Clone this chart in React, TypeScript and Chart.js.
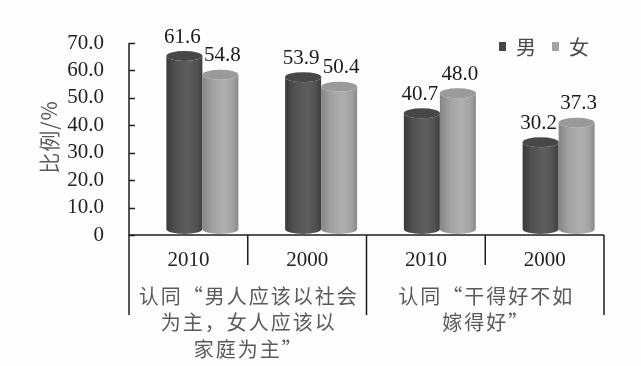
import React, { useEffect, useRef } from 'react';
import { Chart, registerables } from 'chart.js';

Chart.register(...registerables);

const categories = ['2010', '2000', '2010', '2000'];
const groupLabels = [
  ['认同“男人应该以社会', '为主，女人应该以', '家庭为主”'],
  ['认同“干得好不如', '嫁得好”'],
];
const groupSpans = [[0, 1], [2, 3]];
const seriesNames = ['男', '女'];
const maleValues = [61.6, 53.9, 40.7, 30.2];
const femaleValues = [54.8, 50.4, 48.0, 37.3];
const yMin = 0;
const yMax = 70;
const yStep = 10;
const yTitle = '比例/%';

const SERIF = '"Liberation Serif", "DejaVu Serif", serif';
const CJK = '"Noto Sans CJK SC", "Noto Sans", sans-serif';

const styles = [
  {
    stops: [[0, '#3a3a3a'], [0.25, '#505050'], [0.6, '#5e5e5e'], [0.85, '#515151'], [1, '#3e3e3e']],
    top: '#474747',
    legend: '#474747',
  },
  {
    stops: [[0, '#858585'], [0.3, '#a3a3a3'], [0.6, '#b0b0b0'], [0.85, '#a2a2a2'], [1, '#8a8a8a']],
    top: '#9a9a9a',
    legend: '#a3a3a3',
  },
];

function drawCylinder(ctx: CanvasRenderingContext2D, cx: number, rx: number, topY: number, botY: number, ry: number, st: any) {
  const left = cx - rx;
  const right = cx + rx;
  const g = ctx.createLinearGradient(left, 0, right, 0);
  st.stops.forEach((s: any) => g.addColorStop(s[0], s[1]));
  ctx.beginPath();
  ctx.moveTo(left, topY);
  ctx.lineTo(left, botY);
  ctx.ellipse(cx, botY, rx, ry, 0, Math.PI, 0, true);
  ctx.lineTo(right, topY);
  ctx.ellipse(cx, topY, rx, ry, 0, 0, Math.PI, false);
  ctx.closePath();
  ctx.fillStyle = g;
  ctx.fill();
  ctx.beginPath();
  ctx.ellipse(cx, topY, rx, ry, 0, 0, Math.PI * 2);
  ctx.fillStyle = st.top;
  ctx.fill();
}

const customPlugin = {
  id: 'custom3d',
  beforeDraw(chart: any) {
    const ctx = chart.ctx;
    ctx.save();
    ctx.fillStyle = '#fdfdfd';
    ctx.fillRect(0, 0, chart.width, chart.height);
    ctx.restore();
  },
  afterDraw(chart: any) {
    const ctx: CanvasRenderingContext2D = chart.ctx;
    const xs = chart.scales.x;
    const ys = chart.scales.y;
    const area = chart.chartArea;
    const catW = (xs.right - xs.left) / categories.length;
    ctx.save();

    // axes
    ctx.strokeStyle = '#1e1e1e';
    ctx.lineWidth = 1.5;
    ctx.beginPath();
    ctx.moveTo(area.left, area.top);
    ctx.lineTo(area.left, area.bottom);
    ctx.lineTo(area.right, area.bottom);
    ctx.stroke();
    // y ticks inward
    for (let v = yMin; v <= yMax; v += yStep) {
      const py = Math.round(ys.getPixelForValue(v)) + 0.5;
      ctx.beginPath();
      ctx.moveTo(area.left, py);
      ctx.lineTo(area.left + 6, py);
      ctx.stroke();
    }
    // x dividers
    for (let i = 0; i <= categories.length; i++) {
      const px = xs.left + i * catW;
      const isGroupEdge = groupSpans.some((s) => s[0] === i || s[1] + 1 === i);
      ctx.beginPath();
      ctx.moveTo(px, area.bottom);
      ctx.lineTo(px, area.bottom + (isGroupEdge ? 80 : 30));
      ctx.stroke();
    }

    // category labels
    ctx.fillStyle = '#222';
    ctx.font = `21px ${SERIF}`;
    ctx.textAlign = 'center';
    ctx.textBaseline = 'middle';
    categories.forEach((c, i) => {
      ctx.fillText(c, xs.getPixelForValue(i), area.bottom + 25);
    });

    // group labels
    ctx.fillStyle = '#5a5a5a';
    ctx.font = `20px ${CJK}`;
    (ctx as any).letterSpacing = '2px';
    groupLabels.forEach((lines, gi) => {
      const [a, b] = groupSpans[gi];
      const cx = (xs.left + a * catW + xs.left + (b + 1) * catW) / 2;
      lines.forEach((line, li) => {
        ctx.fillText(line, cx + 1, area.bottom + 61 + li * 26.5);
      });
    });
    (ctx as any).letterSpacing = '0px';

    // y title
    ctx.save();
    ctx.translate(49, (area.top + area.bottom) / 2 - 2);
    ctx.rotate(-Math.PI / 2);
    ctx.fillStyle = '#5a5a5a';
    ctx.font = `21px ${CJK}`;
    (ctx as any).letterSpacing = '1px';
    ctx.fillText(yTitle, 0, 0);
    (ctx as any).letterSpacing = '0px';
    ctx.restore();

    // cylinders
    const shiftX = 14;
    const rx = 18;
    const ry = 5;
    const labels: any[] = [];
    chart.data.datasets.forEach((ds: any, di: number) => {
      const meta = chart.getDatasetMeta(di);
      meta.data.forEach((el: any, i: number) => {
        const cx = el.x + shiftX;
        const topY = el.y - 10;
        const botY = el.base - 6;
        drawCylinder(ctx, cx, rx, topY, botY, ry, styles[di]);
        labels.push({ x: cx + (di === 0 ? -2 : 2), y: el.y - 29, t: ds.data[i].toFixed(1) });
      });
    });
    ctx.fillStyle = '#1a1a1a';
    ctx.font = `21px ${SERIF}`;
    ctx.textAlign = 'center';
    ctx.textBaseline = 'middle';
    labels.forEach((l) => ctx.fillText(l.t, l.x, l.y));

    // legend
    ctx.textAlign = 'left';
    ctx.font = `20px ${CJK}`;
    let lx = 499;
    seriesNames.forEach((name, i) => {
      ctx.fillStyle = styles[i].legend;
      ctx.fillRect(lx, 42, 7, 9);
      ctx.fillStyle = '#4a4a4a';
      ctx.fillText(name, lx + 17, 47);
      lx += 53;
    });

    ctx.restore();
  },
};

export default function App() {
  const ref = useRef<HTMLCanvasElement>(null);
  useEffect(() => {
    if (!ref.current) return;
    const chart = new Chart(ref.current, {
      type: 'bar',
      data: {
        labels: categories,
        datasets: [
          { label: seriesNames[0], data: maleValues, backgroundColor: 'rgba(0,0,0,0)' },
          { label: seriesNames[1], data: femaleValues, backgroundColor: 'rgba(0,0,0,0)' },
        ],
      },
      options: {
        responsive: false,
        animation: false,
        devicePixelRatio: 1,
        layout: { padding: { top: 43, right: 37, left: 0, bottom: 0 } },
        datasets: { bar: { categoryPercentage: 72 / 118.75, barPercentage: 1 } },
        plugins: { legend: { display: false }, tooltip: { enabled: false } },
        scales: {
          x: {
            ticks: { display: false },
            grid: { display: false },
            border: { display: false },
            afterFit: (s: any) => { s.height = 131; },
          },
          y: {
            min: yMin,
            max: yMax,
            ticks: {
              stepSize: yStep,
              autoSkip: false,
              callback: (v: any) => (v === 0 ? '0' : Number(v).toFixed(1)),
              font: { family: SERIF, size: 21 },
              color: '#222',
              padding: 17,
            },
            grid: { display: false },
            border: { display: false },
            afterFit: (s: any) => { s.width = 129; },
          },
        },
      },
      plugins: [customPlugin],
    });
    return () => chart.destroy();
  }, []);
  return (
    <div style={{ position: 'absolute', left: 0, top: 0, width: 641, height: 366 }}>
      <canvas ref={ref} width={641} height={366} style={{ width: 641, height: 366 }} />
    </div>
  );
}
